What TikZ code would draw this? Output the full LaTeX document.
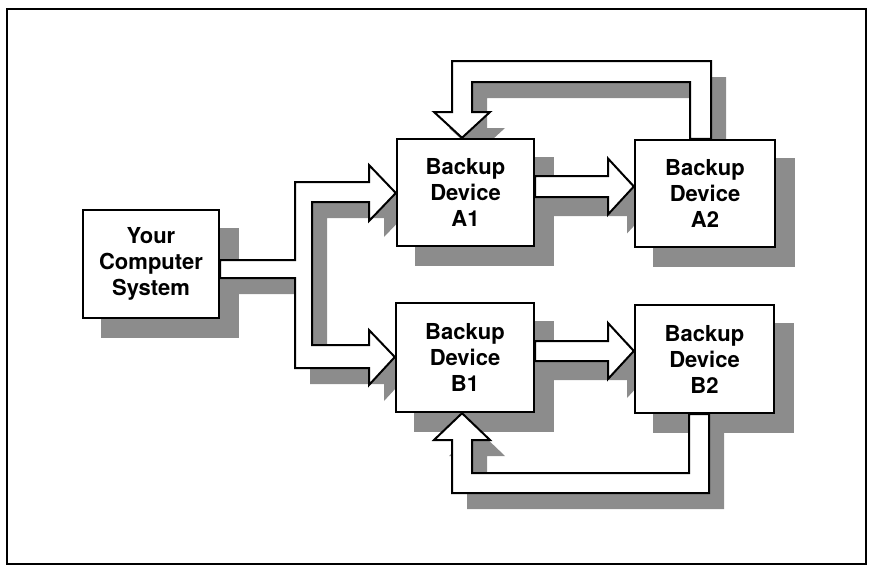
\documentclass[tikz,border=0pt]{standalone}
\usepackage{fontspec}
\setmainfont{TeX Gyre Heros}
\usetikzlibrary{calc}
\pgfdeclarelayer{shade}
\pgfdeclarelayer{band}
\pgfsetlayers{shade,band,main}

% outlines of the wide block arrows (pixel-like units, y grows downwards)
\newcommand\shapeBranch{(cs.east |- 0,260) -- (295,260) -- (295,182) -- (369,182) -- (369,165)
  -- (a1.west |- 0,193) -- (369,221) -- (369,202) -- (312,202) -- (312,345) -- (369,345)
  -- (369,330) -- (b1.west |- 0,357) -- (369,385) -- (369,368) -- (295,368) -- (295,278)
  -- (cs.east |- 0,278) -- cycle}
\newcommand\shapeAfwd{(a1.east |- 0,176) -- (608,176) -- (608,158.5) -- (a2.west |- 0,186.5)
  -- (608,214.5) -- (608,197) -- (a1.east |- 0,197) -- cycle}
\newcommand\shapeBfwd{(b1.east |- 0,341) -- (608,341) -- (608,323) -- (b2.west |- 0,351)
  -- (608,379) -- (608,361) -- (b1.east |- 0,361) -- cycle}
\newcommand\shapeAloop{(711,0 |- a2.north) -- (711,61) -- (452,61) -- (452,112) -- (434,112)
  -- (a1.north -| 462,0) -- (490,112) -- (472,112) -- (472,82) -- (690,82)
  -- (690,0 |- a2.north) -- cycle}
\newcommand\shapeBloop{(709,0 |- b2.south) -- (709,493) -- (452,493) -- (452,440) -- (434,440)
  -- (b1.south -| 462,0) -- (490,440) -- (472,440) -- (472,473) -- (689,473)
  -- (689,0 |- b2.south) -- cycle}

\tikzset{
  unitbox/.style={draw, line width=2.4pt, fill=white, align=center, inner sep=0pt,
    font=\fontsize{22}{26}\selectfont\bfseries},
  bandarrow/.style={draw, line width=2pt, fill=white, line join=miter},
  shadowfill/.style={fill=black!45},
}

\begin{document}
\begin{tikzpicture}[x=1pt, y=-1pt]
\useasboundingbox (0,0) rectangle (872,573);

% outer frame
\draw[line width=1.6pt] (7,9) rectangle (866,564);

% boxes
\node[unitbox, minimum width=136pt, minimum height=108pt] (cs) at (151,264) {Your\\Computer\\System};
\node[unitbox, minimum width=137pt, minimum height=107pt] (a1) at (465.5,192.5) {Backup\\Device\\A1};
\node[unitbox, minimum width=140pt, minimum height=107pt] (a2) at (705,193.5) {Backup\\Device\\A2};
\node[unitbox, minimum width=138pt, minimum height=109pt] (b1) at (465,357.5) {Backup\\Device\\B1};
\node[unitbox, minimum width=139pt, minimum height=108pt] (b2) at (704.5,359) {Backup\\Device\\B2};

% drop shadows
\begin{pgfonlayer}{shade}
  \foreach \n in {cs,a1,a2,b1,b2}
    \fill[shadowfill] ($(\n.north west)+(19,19)$) rectangle ($(\n.south east)+(19,19)$);
  \begin{scope}[transform canvas={shift={(15,16)}}]
    \fill[shadowfill] \shapeBranch;
    \fill[shadowfill] \shapeAloop;
    \fill[shadowfill] \shapeBloop;
  \end{scope}
  \begin{scope}[transform canvas={shift={(19,19)}}]
    \fill[shadowfill] \shapeAfwd;
    \fill[shadowfill] \shapeBfwd;
  \end{scope}
\end{pgfonlayer}

% block arrows
\begin{pgfonlayer}{band}
  \path[bandarrow] \shapeBranch;
  \path[bandarrow] \shapeAfwd;
  \path[bandarrow] \shapeBfwd;
  \path[bandarrow] \shapeAloop;
  \path[bandarrow] \shapeBloop;
\end{pgfonlayer}
\end{tikzpicture}
\end{document}
